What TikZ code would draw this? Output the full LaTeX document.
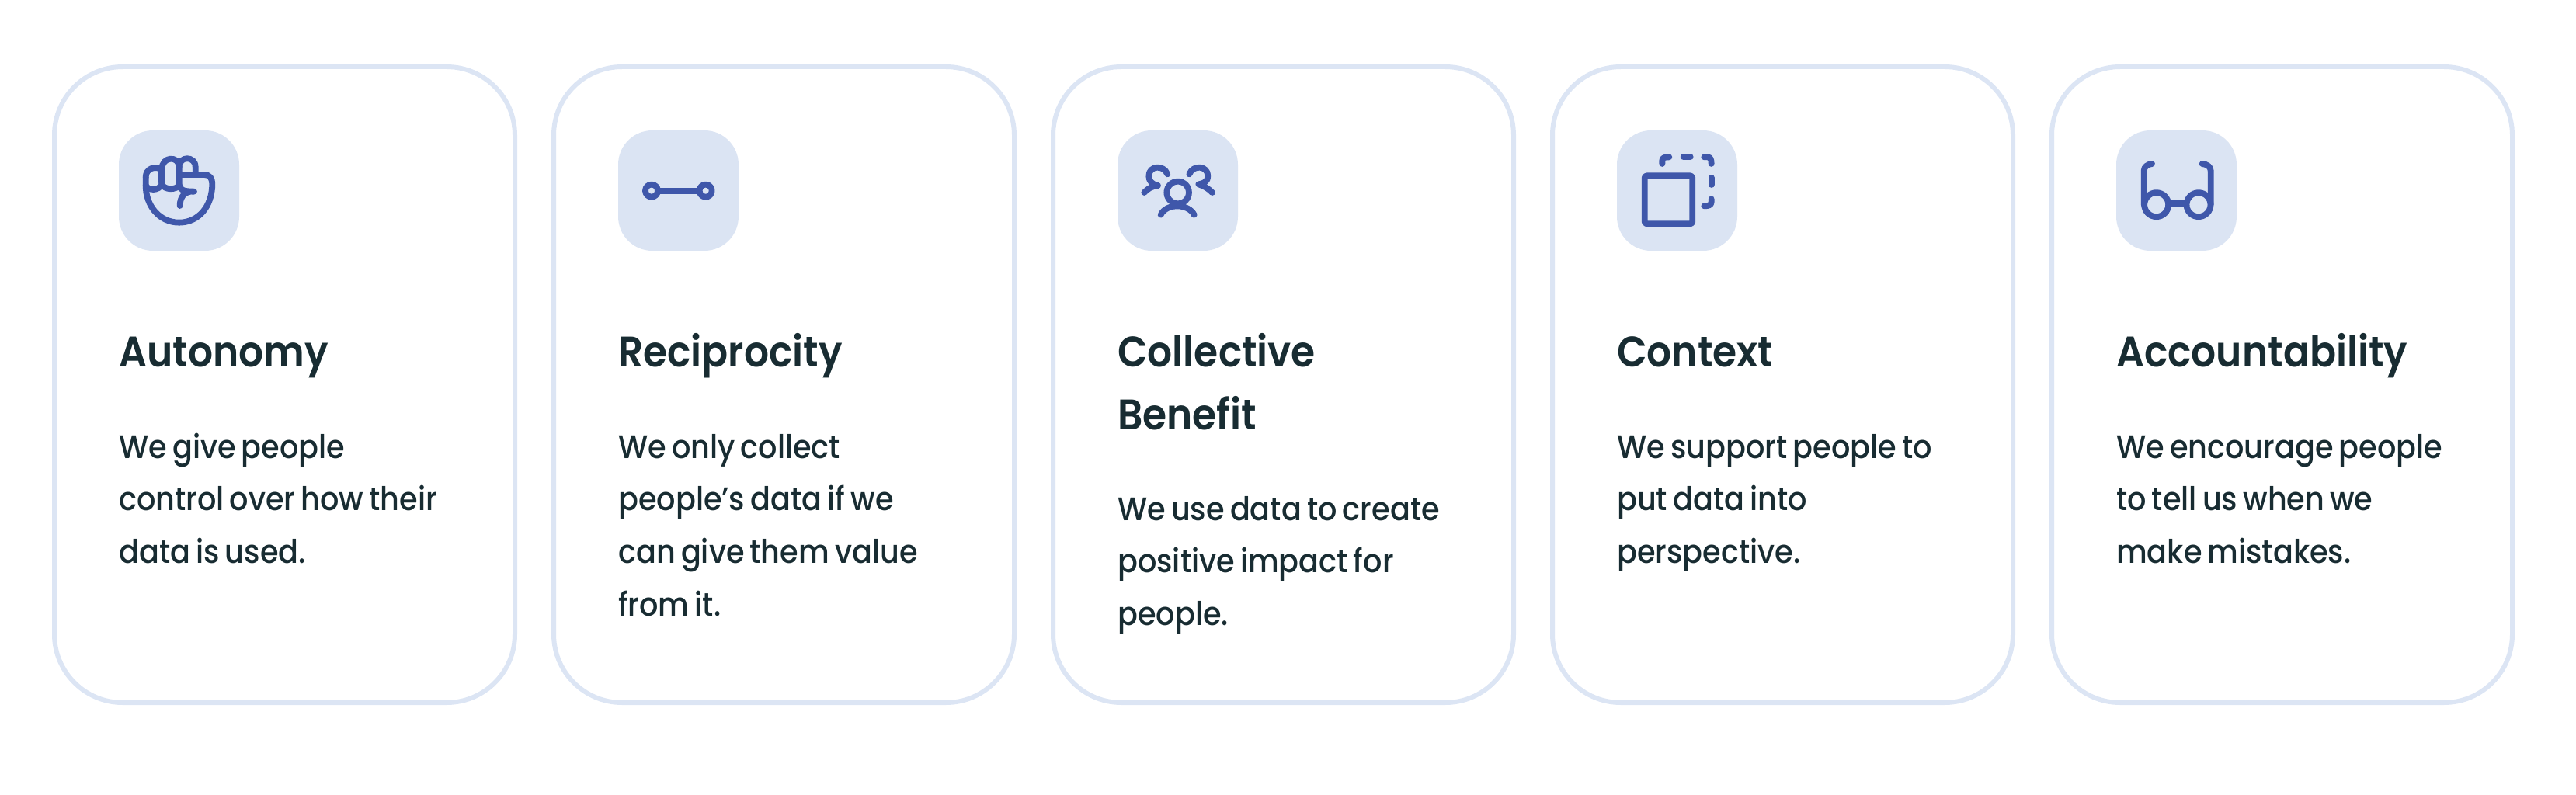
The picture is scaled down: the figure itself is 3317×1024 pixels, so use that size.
\documentclass[tikz,border=0pt]{standalone}
\usepackage{fontspec}
\newfontfamily\bodyface{Poppins}[UprightFont={* Medium},WordSpace=0.72,FakeStretch=0.91]
\newfontfamily\titleface{Poppins}[UprightFont={* SemiBold},WordSpace=0.72,FakeStretch=0.915]
\definecolor{cardline}{HTML}{DCE5F4}
\definecolor{iconbg}{HTML}{DBE4F3}
\definecolor{iconfg}{HTML}{3F57AA}
\definecolor{ink}{HTML}{182C32}
\newcommand{\bodyfont}{\bodyface\fontsize{42}{67.6}\selectfont}
\newcommand{\titlefont}{\titleface\fontsize{55}{81}\selectfont}
\newcommand{\anchorstrut}{\rule{0pt}{50pt}}
\tikzset{
  card/.style={draw=cardline,line width=6pt,fill=white,rounded corners=88pt},
  iconbox/.style={fill=iconbg,rounded corners=44pt},
  glyph/.style={draw=iconfg,line width=7.8pt,line cap=round,line join=round},
  titletext/.style={anchor=north west,inner sep=0pt,align=left,text=ink,font=\titlefont},
  bodytext/.style={anchor=north west,inner sep=0pt,align=left,text=ink,font=\bodyfont},
}
\begin{document}
\begin{tikzpicture}[x=1pt,y=-1pt]
\useasboundingbox (0,0) rectangle (3317,1024);
\foreach \cx in {0,643,1286,1929,2572}{
  \draw[card] (70+\cx,86) rectangle (663+\cx,905);
  \fill[iconbox] (153+\cx,168) rectangle (308+\cx,323);
}
% fist
\begin{scope}[shift={(140,160)},x=0.3333pt,y=-0.3333pt]
\draw[glyph] (143,205) .. controls (143,170) and (180,160) .. (205,175);
\draw[glyph] (205,175) .. controls (205,122) and (272,122) .. (272,165) -- (272,235);
\draw[glyph] (272,165) .. controls (272,122) and (335,122) .. (335,165) -- (335,195);
\draw[glyph] (205,175) -- (205,225);
\draw[glyph] (143,205) -- (143,235) .. controls (150,258) and (195,258) .. (205,232) .. controls (215,255) and (262,255) .. (272,235) .. controls (275,252) and (285,260) .. (330,260);
\draw[glyph] (272,195) -- (370,195) .. controls (390,195) and (400,210) .. (400,230) .. controls (400,320) and (345,380) .. (272,380) .. controls (200,380) and (143,320) .. (143,235);
\draw[glyph] (312,261) .. controls (290,265) and (275,285) .. (275,315);
\end{scope}
% link
\begin{scope}[shift={(780,160)},x=0.3333pt,y=-0.3333pt]
\draw[glyph] (177,257) circle[radius=8pt];
\draw[glyph] (386,257) circle[radius=8pt];
\draw[glyph,line cap=butt] (208,257) -- (355,257);
\end{scope}
% people
\begin{scope}[shift={(1430,160)},x=0.3333pt,y=-0.3333pt]
\draw[glyph] (260,264) circle[radius=14.3pt];
\draw[glyph] (194,350) .. controls (215,305) and (300,305) .. (323,350);
\draw[glyph] (220,193) .. controls (205,155) and (148,160) .. (148,200) .. controls (148,220) and (160,232) .. (183,237) .. controls (160,240) and (145,248) .. (130,264);
\draw[glyph] (304,193) .. controls (319,155) and (376,160) .. (376,200) .. controls (376,220) and (364,228) .. (340,232) .. controls (362,240) and (378,248) .. (393,264);
\end{scope}
% square
\begin{scope}[shift={(2070,160)},x=0.3333pt,y=-0.3333pt]
\draw[glyph,rounded corners=3pt] (143,199) rectangle (328,385);
\draw[glyph] (211,153) -- (211,140) .. controls (211,130) and (220,127) .. (238,127);
\draw[glyph] (293,127) -- (320,127);
\draw[glyph] (373,127) -- (385,127) .. controls (397,127) and (401,135) .. (401,153);
\draw[glyph] (401,207) -- (401,234);
\draw[glyph] (401,289) -- (401,300) .. controls (401,312) and (392,316) .. (373,316);
\end{scope}
% glasses
\begin{scope}[shift={(2715,160)},x=0.3333pt,y=-0.3333pt]
\draw[glyph] (185,311) circle[radius=15.5pt];
\draw[glyph] (348,311) circle[radius=15.5pt];
\draw[glyph,line cap=butt] (233,306) -- (299,306);
\draw[glyph] (137,311) -- (137,180) .. controls (137,165) and (150,155) .. (168,153);
\draw[glyph] (395,311) -- (395,180) .. controls (395,165) and (382,155) .. (362,153);
\end{scope}
% text
\node[titletext] (t1) at (153,422) {\anchorstrut Autonomy};
\node[bodytext] (b1) at (153,540) {\anchorstrut We give people\\control over how their\\data is used.};
\node[titletext] (t2) at (796,422) {\anchorstrut Reciprocity};
\node[bodytext] (b2) at (796,540) {\anchorstrut We only collect\\people’s data if we\\can give them value\\from it.};
\node[titletext] (t3) at (1439,422) {\anchorstrut Collective\\Benefit};
\node[bodytext] (b3) at (1439,620) {\anchorstrut We use data to create\\positive impact for\\people.};
\node[titletext] (t4) at (2082,422) {\anchorstrut Context};
\node[bodytext] (b4) at (2082,540) {\anchorstrut We support people to\\put data into\\perspective.};
\node[titletext] (t5) at (2725,422) {\anchorstrut Accountability};
\node[bodytext] (b5) at (2725,540) {\anchorstrut We encourage people\\to tell us when we\\make mistakes.};
\end{tikzpicture}
\end{document}
